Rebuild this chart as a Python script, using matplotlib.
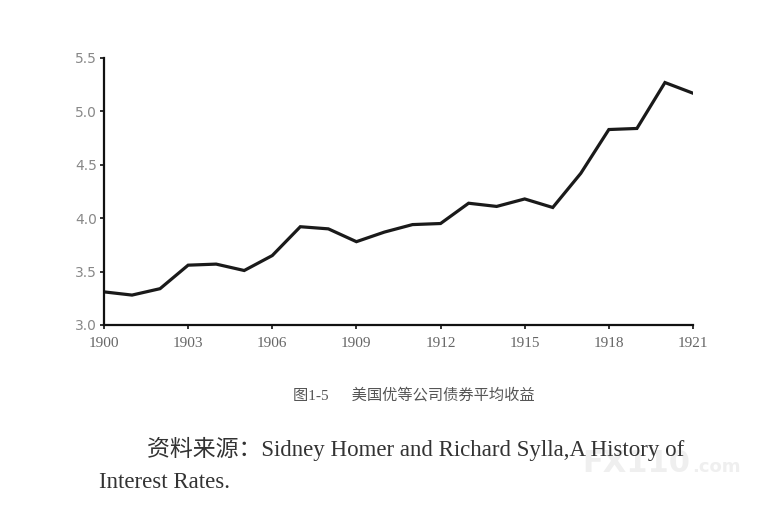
import matplotlib.pyplot as plt

# Data: average yield of US prime corporate bonds, 1900-1921
years = list(range(1900, 1922))
yields = [3.31, 3.28, 3.34, 3.56, 3.57, 3.51, 3.65, 3.92, 3.90, 3.78, 3.87,
          3.94, 3.95, 4.14, 4.11, 4.18, 4.10, 4.42, 4.83, 4.84, 5.27, 5.17]

xticks = list(range(1900, 1922, 3))
yticks = [3.0, 3.5, 4.0, 4.5, 5.0, 5.5]

caption = "图1-5　  美国优等公司债券平均收益"
source1 = "资料来源：Sidney Homer and Richard Sylla,A History of"
source2 = "Interest Rates."

fig = plt.figure(figsize=(7.73, 5.13), dpi=100)
ax = fig.add_axes([0.1345, 0.3665, 0.762, 0.5205])

ax.plot(years, yields, color='#1a1a1a', lw=2.3, solid_joinstyle='miter')

ax.set_xlim(1900, 1921)
ax.set_ylim(3.0, 5.5)
ax.set_xticks(xticks)
ax.set_yticks(yticks)
ax.set_yticklabels([f"{v:.1f}" for v in yticks])

ax.spines['top'].set_visible(False)
ax.spines['right'].set_visible(False)
ax.spines['left'].set_linewidth(1.6)
ax.spines['bottom'].set_linewidth(1.6)
ax.spines['left'].set_color('#111111')
ax.spines['bottom'].set_color('#111111')
ax.tick_params(axis='both', direction='out', length=3, width=1.2, color='#111111')
ax.tick_params(axis='y', labelsize=10, labelcolor='#888888', pad=2)
ax.tick_params(axis='x', labelsize=11, labelcolor='#666666', pad=6)
for lab in ax.get_xticklabels():
    lab.set_family('Liberation Serif')
for lab in ax.get_yticklabels():
    lab.set_family('DejaVu Sans')

fam = ['Liberation Serif', 'Noto Sans CJK SC']
fig.text(414/773, 1 - 395/513, caption, ha='center', va='center',
         fontsize=11, color='#555555', family=fam)
fig.text(147/773, 1 - 449/513, source1, ha='left', va='center',
         fontsize=16.5, color='#333333', family=fam)
fig.text(99/773, 1 - 483/513, source2, ha='left', va='center',
         fontsize=16.5, color='#333333', family=fam)

# faint watermark
fig.text(690/773, 1 - 464/513, "FX110", ha='right', va='center', fontsize=22,
         fontweight='bold', color='#efefef', family='DejaVu Sans', zorder=0)
fig.text(692/773, 1 - 467/513, ".com", ha='left', va='center', fontsize=13,
         fontweight='bold', color='#efefef', family='DejaVu Sans', zorder=0)

fig.savefig('out.png', dpi=100)
